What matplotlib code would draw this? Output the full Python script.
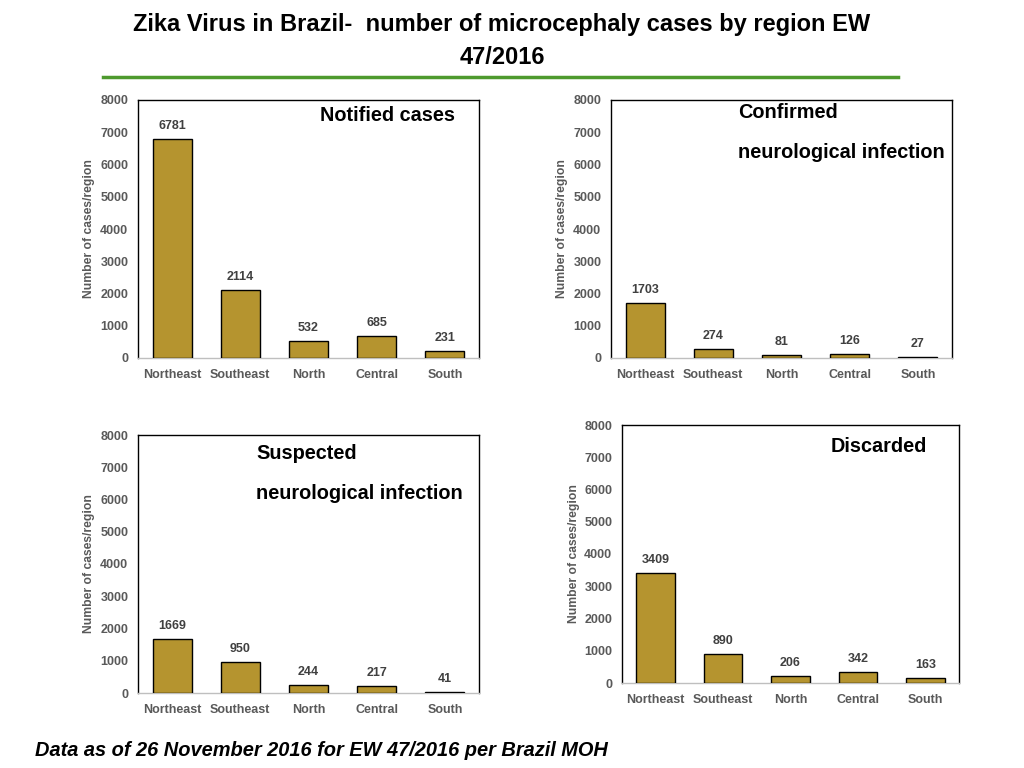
import matplotlib
matplotlib.use("Agg")
import matplotlib.pyplot as plt
from matplotlib.lines import Line2D

regions = ["Northeast", "Southeast", "North", "Central", "South"]
notified = [6781, 2114, 532, 685, 231]
confirmed = [1703, 274, 81, 126, 27]
suspected = [1669, 950, 244, 217, 41]
discarded = [3409, 890, 206, 342, 163]
yticks = [0, 1000, 2000, 3000, 4000, 5000, 6000, 7000, 8000]

plt.rcParams['font.family'] = ['Liberation Sans', 'DejaVu Sans']

W, H = 1024, 768
fig = plt.figure(figsize=(W / 100, H / 100), dpi=100)

BAR = "#B5942F"
GREY = "#595959"

def px_axes(l, t, r, b):
    return fig.add_axes([l / W, 1 - b / H, (r - l) / W, (b - t) / H])

panels = [
    ((138, 100, 479, 358), notified, [("Notified cases", 0.93, 0.938, "right")]),
    ((611, 100, 952, 358), confirmed, [("Confirmed", 0.372, 0.95, "left"),
                                       ("neurological infection", 0.372, 0.795, "left")]),
    ((138, 435, 479, 693), suspected, [("Suspected", 0.346, 0.93, "left"),
                                       ("neurological infection", 0.346, 0.775, "left")]),
    ((622, 425, 959, 683), discarded, [("Discarded", 0.905, 0.915, "right")]),
]

for box, vals, titles in panels:
    ax = px_axes(*box)
    x = range(len(regions))
    ax.bar(x, vals, width=0.57, color=BAR, edgecolor="black", linewidth=1.0, zorder=3)
    ax.set_xlim(-0.5, len(regions) - 0.5)
    ax.set_ylim(0, 8000)
    ax.set_yticks(yticks)
    ax.set_xticks(list(x))
    ax.set_xticklabels(regions)
    ax.tick_params(axis="both", length=0, labelsize=9, labelcolor=GREY)
    ax.tick_params(axis="y", pad=7)
    ax.tick_params(axis="x", pad=8)
    for lab in ax.get_xticklabels() + ax.get_yticklabels():
        lab.set_fontweight("bold")
    for s in ["top", "left", "right"]:
        ax.spines[s].set_color("black")
        ax.spines[s].set_linewidth(1.0)
    ax.spines["bottom"].set_color("#BFBFBF")
    ax.spines["bottom"].set_linewidth(1.0)
    ax.set_ylabel("Number of cases/region", fontsize=8.7, fontweight="bold", color=GREY)
    ax.yaxis.set_label_coords(-0.126, 0.5)
    for xi, v in zip(x, vals):
        ax.annotate(str(v), (xi, v), xytext=(0, 5), textcoords="offset points",
                    ha="center", va="bottom", fontsize=9, fontweight="bold", color="#404040")
    for txt, tx, ty, ha in titles:
        ax.text(tx, ty, txt, transform=ax.transAxes, ha=ha, va="center",
                fontsize=14.3, fontweight="bold", color="black")

fig.text(502 / W, 1 - 24 / H, "Zika Virus in Brazil\u2010  number of microcephaly cases by region EW",
         ha="center", va="center", fontsize=17, fontweight="bold")
fig.text(502 / W, 1 - 58 / H, "47/2016",
         ha="center", va="center", fontsize=17, fontweight="bold")
fig.add_artist(Line2D([103 / W, 898 / W], [1 - 77 / H, 1 - 77 / H], color="#4E9A2E", linewidth=2.5))

fig.text(35 / W, 1 - 750 / H, "Data as of 26 November 2016 for EW 47/2016 per Brazil MOH",
         ha="left", va="center", fontsize=14.4, fontweight="bold", style="italic", color="black")

fig.savefig("out.png", dpi=100)
